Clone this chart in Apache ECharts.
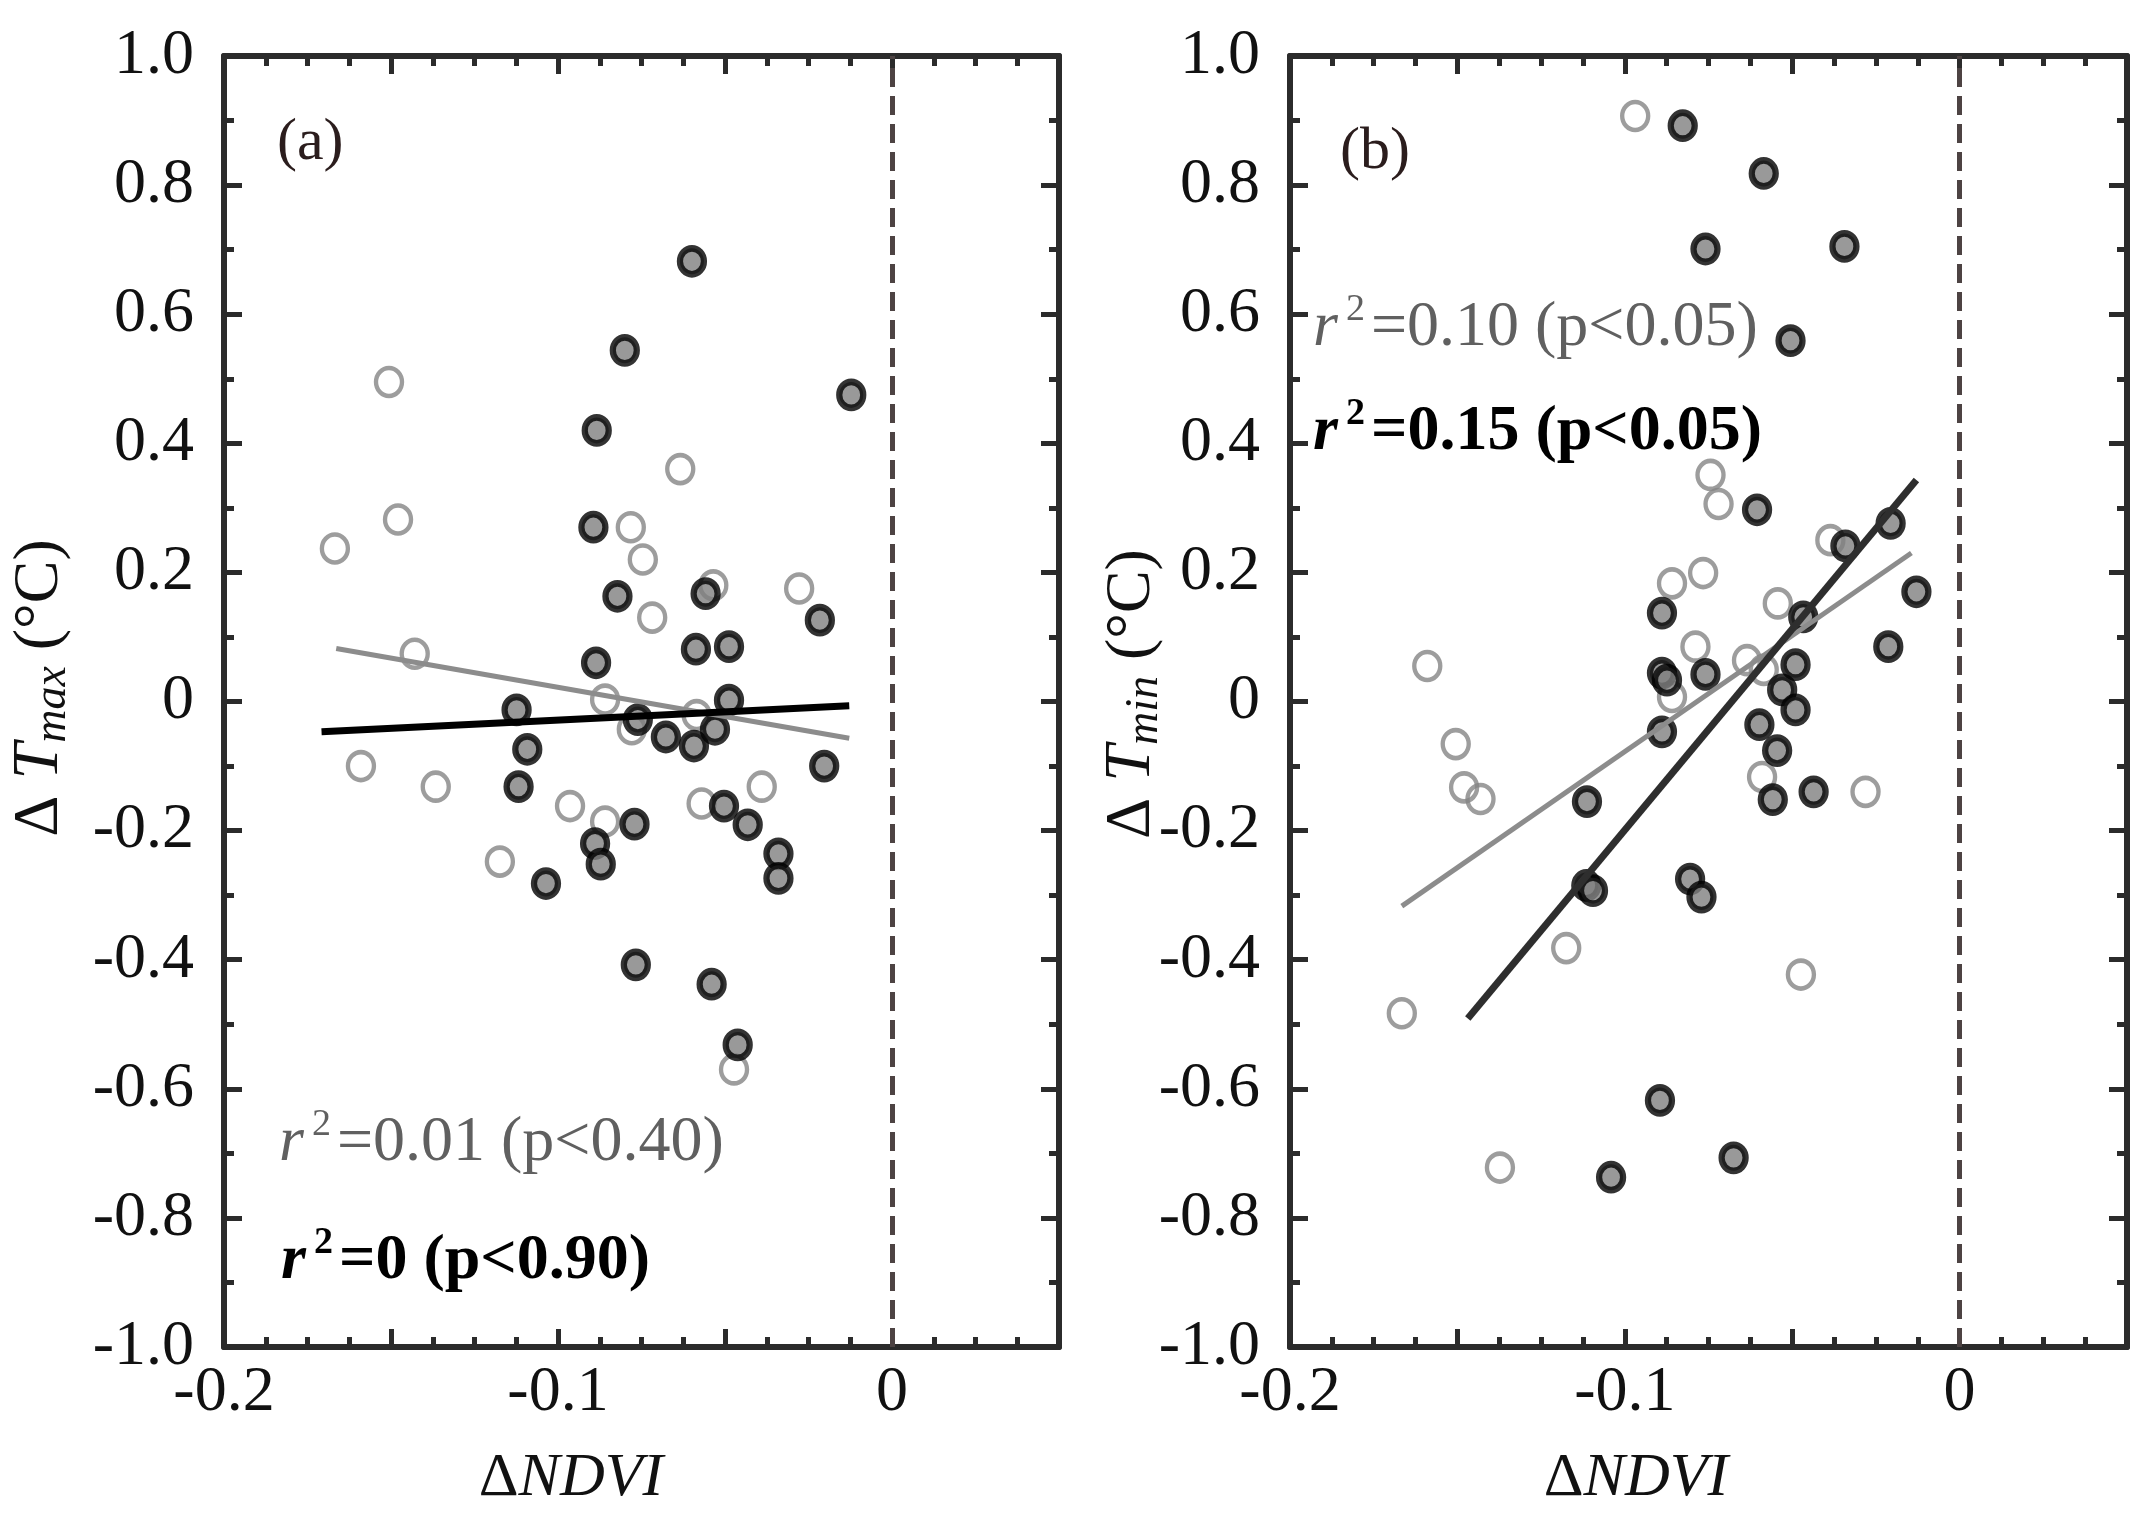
<!DOCTYPE html>
<html>
<head>
<meta charset="utf-8">
<script src="https://cdn.jsdelivr.net/npm/echarts@6/dist/echarts.min.js"></script>
<style>
  html, body { margin: 0; padding: 0; background: #fff; }
  #chart { width: 2151px; height: 1514px; }
</style>
</head>
<body>
<div id="chart"></div>
<script>
// ---- data ----
// (a) dTmax vs dNDVI
var aOpen = [
  [-0.1506, 0.495], [-0.0634, 0.360], [-0.1479, 0.282], [-0.1668, 0.237], [-0.0782, 0.270],
  [-0.0746, 0.220], [-0.0535, 0.180], [-0.0278, 0.175], [-0.0718, 0.130], [-0.1429, 0.074],
  [-0.0859, 0.003], [-0.0585, -0.021], [-0.0779, -0.043], [-0.159, -0.100], [-0.1366, -0.132],
  [-0.0964, -0.162], [-0.0859, -0.186], [-0.057, -0.158], [-0.039, -0.132], [-0.1174, -0.248],
  [-0.0473, -0.570]
];
var aFilled = [
  [-0.0599, 0.682], [-0.080, 0.544], [-0.0122, 0.475], [-0.0884, 0.420], [-0.0894, 0.270],
  [-0.0822, 0.163], [-0.0558, 0.167], [-0.0216, 0.126], [-0.0587, 0.081], [-0.0488, 0.085],
  [-0.0886, 0.060], [-0.0488, 0.002], [-0.1124, -0.013], [-0.0761, -0.028], [-0.1092, -0.074],
  [-0.0677, -0.055], [-0.0593, -0.069], [-0.053, -0.043], [-0.0203, -0.100], [-0.1118, -0.132],
  [-0.0503, -0.162], [-0.0771, -0.190], [-0.0432, -0.191], [-0.0889, -0.220], [-0.0872, -0.252],
  [-0.034, -0.236], [-0.034, -0.274], [-0.1036, -0.282], [-0.0767, -0.408], [-0.054, -0.438],
  [-0.0462, -0.532]
];
var aFitGray = [[-0.1664, 0.082], [-0.0128, -0.057]];
var aFitBlack = [[-0.1708, -0.047], [-0.0128, -0.0065]];
var aStats = ['=0.01 (p<0.40)', '=0 (p<0.90)'];

// (b) dTmin vs dNDVI
var bOpen = [
  [-0.0969, 0.907], [-0.0744, 0.351], [-0.0720, 0.306], [-0.0386, 0.250], [-0.0859, 0.183],
  [-0.0766, 0.199], [-0.0543, 0.152], [-0.0789, 0.085], [-0.0635, 0.064], [-0.0585, 0.049],
  [-0.0859, 0.007], [-0.159, 0.055], [-0.1505, -0.066], [-0.148, -0.133], [-0.1431, -0.151],
  [-0.059, -0.117], [-0.0281, -0.140], [-0.1175, -0.382], [-0.0474, -0.423], [-0.1666, -0.483],
  [-0.1373, -0.722]
];
var bFilled = [
  [-0.0827, 0.892], [-0.0585, 0.818], [-0.0759, 0.701], [-0.0344, 0.705], [-0.0505, 0.559],
  [-0.0605, 0.297], [-0.0206, 0.276], [-0.0341, 0.241], [-0.0129, 0.170], [-0.0889, 0.137],
  [-0.0467, 0.131], [-0.0213, 0.085], [-0.0889, 0.044], [-0.0874, 0.033], [-0.0759, 0.042],
  [-0.049, 0.057], [-0.053, 0.018], [-0.049, -0.013], [-0.0889, -0.047], [-0.0598, -0.036],
  [-0.0545, -0.076], [-0.0436, -0.140], [-0.0558, -0.152], [-0.1113, -0.155], [-0.1115, -0.285],
  [-0.1095, -0.293], [-0.0805, -0.275], [-0.0771, -0.303], [-0.0895, -0.618], [-0.0675, -0.707],
  [-0.1041, -0.737]
];
var bFitGray = [[-0.1666, -0.317], [-0.0144, 0.230]];
var bFitBlack = [[-0.1469, -0.491], [-0.0129, 0.343]];
var bStats = ['=0.10 (p<0.05)', '=0.15 (p<0.05)'];

var xLimits = [-0.2, 0.05];
var yLimits = [-1, 1];

// ---- style ----
var FONT = 'Liberation Serif, Times New Roman, serif';
var FRAME = '#2b2b2b';

var myChart = echarts.init(document.getElementById('chart'));

function xFmt(v) {
    var t = Math.round(v * 100);
    if (t % 10 !== 0) return '';
    return t === 0 ? '0' : v.toFixed(1);
}
function yFmt(v) {
    var t = Math.round(v * 10);
    return t === 0 ? '0' : (t / 10).toFixed(1);
}

function axisCommon() {
    return {
        type: 'value',
        axisLine: { show: true, onZero: false, lineStyle: { color: FRAME, width: 6 } },
        axisTick: { show: true, inside: true, length: 18, lineStyle: { color: FRAME, width: 5 } },
        minorTick: { show: true, length: 10, lineStyle: { color: FRAME, width: 5 } },
        splitLine: { show: false },
        minorSplitLine: { show: false }
    };
}
function makeX(grid, pos) {
    var ax = axisCommon();
    ax.gridIndex = grid;
    ax.position = pos;
    ax.min = xLimits[0];
    ax.max = xLimits[1];
    ax.interval = 0.05;
    ax.minorTick.splitNumber = 4;
    ax.axisLabel = {
        show: pos === 'bottom', formatter: xFmt, margin: 14,
        fontFamily: FONT, fontSize: 64, color: '#111'
    };
    return ax;
}
function makeY(grid, pos) {
    var ax = axisCommon();
    ax.gridIndex = grid;
    ax.position = pos;
    ax.min = yLimits[0];
    ax.max = yLimits[1];
    ax.interval = 0.2;
    ax.minorTick.splitNumber = 2;
    ax.axisLabel = {
        show: pos === 'left', formatter: yFmt, margin: 30,
        fontFamily: FONT, fontSize: 64, color: '#111'
    };
    return ax;
}

function openSeries(data, ai) {
    return {
        type: 'scatter', xAxisIndex: ai, yAxisIndex: ai, data: data,
        symbol: 'circle', symbolSize: [26, 28], z: 2, silent: true,
        itemStyle: { color: 'rgba(255,255,255,0)', borderColor: '#858585', borderWidth: 4.5 }
    };
}
function filledSeries(data, ai) {
    return {
        type: 'scatter', xAxisIndex: ai, yAxisIndex: ai, data: data,
        symbol: 'circle', symbolSize: [24, 26], z: 3, silent: true,
        itemStyle: { color: '#808080', borderColor: '#000', borderWidth: 6.5 }
    };
}
function fitSeries(data, ai, color, width) {
    return {
        type: 'line', xAxisIndex: ai, yAxisIndex: ai, data: data,
        showSymbol: false, symbol: 'none', z: 4, silent: true,
        lineStyle: { color: color, width: width }
    };
}
function zeroLine(s) {
    s.markLine = {
        silent: true, symbol: 'none', label: { show: false },
        lineStyle: { color: '#4d4343', width: 5, type: [19, 9] },
        data: [{ xAxis: 0 }]
    };
    return s;
}

// rich text styles
var richStats = function (color, bold) {
    var w = bold ? 'bold' : 'normal';
    return {
        r: { fontFamily: FONT, fontSize: 64, fontStyle: 'italic', fontWeight: w, fill: color, lineHeight: 64 },
        s: { fontFamily: FONT, fontSize: 38, fontWeight: w, fill: color, height: 28, verticalAlign: 'top', padding: [0, 6, 0, 8] },
        m: { fontFamily: FONT, fontSize: 64, fontWeight: w, fill: color, lineHeight: 64 }
    };
};
var richTitleY = {
    d: { fontFamily: FONT, fontSize: 64, fill: '#111', lineHeight: 74 },
    t: { fontFamily: FONT, fontSize: 66, fontStyle: 'italic', fill: '#111', lineHeight: 74 },
    s: { fontFamily: FONT, fontSize: 46, fontStyle: 'italic', fill: '#111', height: 48, verticalAlign: 'bottom' },
    u: { fontFamily: FONT, fontSize: 64, fill: '#111', lineHeight: 74 }
};
var richTitleX = {
    d: { fontFamily: FONT, fontSize: 62, fill: '#111' },
    n: { fontFamily: FONT, fontSize: 62, fontStyle: 'italic', fill: '#111' }
};

function statText(x, y, str, color, bold) {
    return {
        type: 'text', x: x, y: y, silent: true,
        style: { text: '{r|r}{s|2}{m|' + str + '}', rich: richStats(color, bold), align: 'left', verticalAlign: 'middle' }
    };
}

var option = {
    backgroundColor: '#fff',
    animation: false,
    grid: [
        { left: 224, right: 1092, top: 56, bottom: 167 },
        { left: 1290, right: 24, top: 56, bottom: 167 }
    ],
    xAxis: [makeX(0, 'bottom'), makeX(0, 'top'), makeX(1, 'bottom'), makeX(1, 'top')],
    yAxis: [makeY(0, 'left'), makeY(0, 'right'), makeY(1, 'left'), makeY(1, 'right')],
    series: [
        openSeries(aOpen, 0),
        filledSeries(aFilled, 0),
        zeroLine(fitSeries(aFitGray, 0, '#8c8c8c', 5)),
        fitSeries(aFitBlack, 0, '#000', 7),
        openSeries(bOpen, 2),
        filledSeries(bFilled, 2),
        zeroLine(fitSeries(bFitGray, 2, '#8c8c8c', 5)),
        fitSeries(bFitBlack, 2, '#2e2e2e', 7)
    ],
    graphic: [
        { type: 'text', x: 277, y: 143, silent: true,
          style: { text: '(a)', fontFamily: FONT, fontSize: 60, fill: '#2b1d1d', align: 'left', verticalAlign: 'middle' } },
        { type: 'text', x: 1340, y: 152, silent: true,
          style: { text: '(b)', fontFamily: FONT, fontSize: 60, fill: '#2b1d1d', align: 'left', verticalAlign: 'middle' } },
        statText(279, 1143, aStats[0], '#606060', false),
        statText(281, 1261, aStats[1], '#000', true),
        statText(1313, 328, bStats[0], '#606060', false),
        statText(1313, 432, bStats[1], '#000', true),
        { type: 'text', x: 40, y: 688, rotation: Math.PI / 2, silent: true,
          style: { text: '{d|Δ }{t|T}{s|max}{u| (°C)}', rich: richTitleY, align: 'center', verticalAlign: 'middle' } },
        { type: 'text', x: 1132, y: 694, rotation: Math.PI / 2, silent: true,
          style: { text: '{d|Δ }{t|T}{s|min}{u| (°C)}', rich: richTitleY, align: 'center', verticalAlign: 'middle' } },
        { type: 'text', x: 571, y: 1479, silent: true,
          style: { text: '{d|Δ}{n|NDVI}', rich: richTitleX, align: 'center', verticalAlign: 'middle' } },
        { type: 'text', x: 1636, y: 1479, silent: true,
          style: { text: '{d|Δ}{n|NDVI}', rich: richTitleX, align: 'center', verticalAlign: 'middle' } }
    ]
};
myChart.setOption(option);
</script>
</body>
</html>
